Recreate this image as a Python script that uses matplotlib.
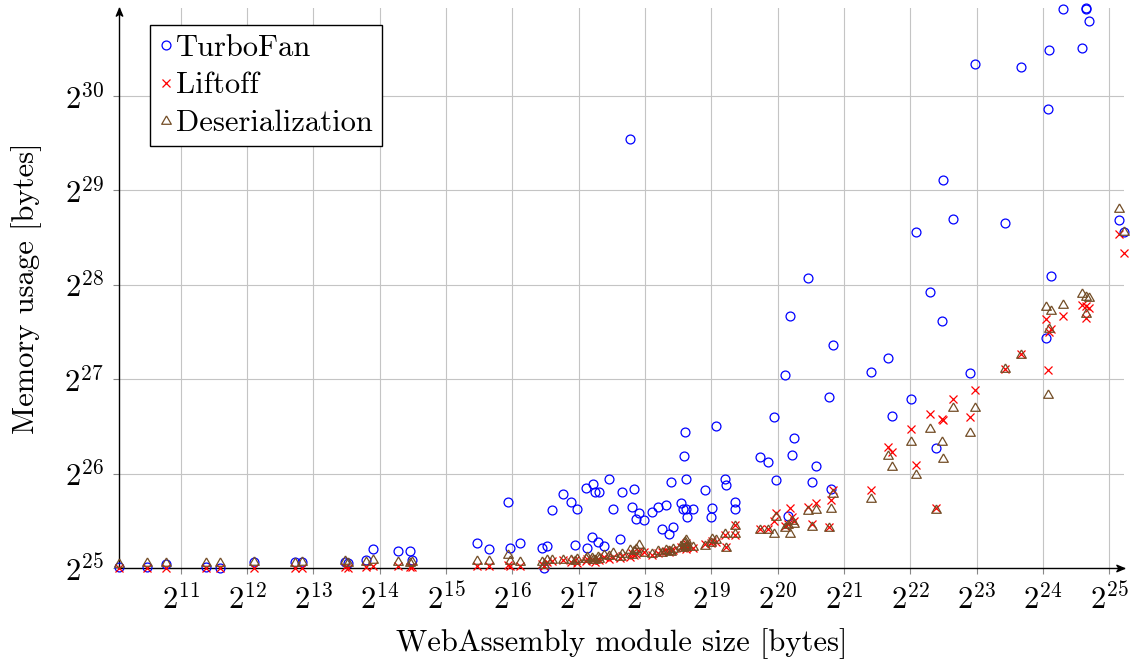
import numpy as np
import matplotlib
matplotlib.use("Agg")
import matplotlib.pyplot as plt
from matplotlib.ticker import FixedLocator, FuncFormatter, NullLocator

plt.rcParams.update({
    "font.family": "serif",
    "font.serif": ["cmr10"],
    "mathtext.fontset": "cm",
    "axes.unicode_minus": False,
    "axes.formatter.use_mathtext": True,
})

# Module size and memory usage, both given as powers of two (bytes = 2 ** value)
size_exp = [
    10.07, 10.49, 10.78, 11.38, 11.60, 12.10, 12.72, 12.83, 13.47, 13.52,
    13.79, 13.90, 14.28, 14.46, 14.48,
    15.46, 15.65, 15.94, 15.96, 16.12, 16.45, 16.47, 16.52, 16.59, 16.77,
    16.89, 16.95, 16.98, 17.11, 17.13, 17.20, 17.21, 17.24, 17.29, 17.31,
    17.38, 17.45, 17.51, 17.62, 17.66, 17.77, 17.81, 17.84, 17.86, 17.91,
    17.98, 18.10, 18.19, 18.26, 18.32, 18.36, 18.39, 18.42, 18.54, 18.57,
    18.58, 18.60, 18.61, 18.62, 18.63, 18.72, 18.91, 19.00, 19.01, 19.07,
    19.21, 19.22, 19.35, 19.36,
    19.73, 19.86, 19.95, 19.97, 20.11, 20.16, 20.18, 20.21, 20.25, 20.45,
    20.51, 20.57, 20.78, 20.80, 20.83, 21.41, 21.66, 21.72, 22.01, 22.08,
    22.30, 22.39, 22.48, 22.49, 22.64, 22.90, 22.98, 23.43, 23.67, 24.05,
    24.08, 24.09, 24.12, 24.30, 24.59, 24.64, 24.65, 24.69, 25.15, 25.22,
]

turbofan_exp = [
    25.01, 25.01, 25.04, 25.01, 25.00, 25.06, 25.06, 25.06, 25.06, 25.05,
    25.09, 25.20, 25.18, 25.18, 25.09,
    25.26, 25.20, 25.70, 25.21, 25.26, 25.21, 25.00, 25.23, 25.61, 25.78,
    25.70, 25.24, 25.62, 25.85, 25.21, 25.33, 25.89, 25.81, 25.28, 25.80,
    25.23, 25.94, 25.62, 25.31, 25.80, 29.54, 25.65, 25.84, 25.52, 25.58,
    25.51, 25.59, 25.65, 25.41, 25.67, 25.36, 25.91, 25.43, 25.69, 25.63,
    26.19, 26.44, 25.94, 25.63, 25.54, 25.63, 25.83, 25.54, 25.64, 26.50,
    25.94, 25.88, 25.70, 25.62,
    26.18, 26.12, 26.60, 25.93, 27.04, 25.55, 27.67, 26.20, 26.38, 28.07,
    25.91, 26.08, 26.81, 25.84, 27.36, 27.08, 27.22, 26.61, 26.79, 28.56,
    27.92, 26.27, 27.62, 29.11, 28.70, 27.07, 30.34, 28.65, 30.31, 27.44,
    29.86, 30.48, 28.09, 30.92, 30.51, 30.93, 30.92, 30.79, 28.69, 28.56,
]

liftoff_exp = [
    25.00, 25.00, 25.00, 25.00, 25.00, 25.00, 25.00, 25.00, 25.01, 25.00,
    25.01, 25.02, 25.02, 25.01, 25.01,
    25.02, 25.02, 25.03, 25.02, 25.02, 25.04, 25.02, 25.06, 25.07, 25.08,
    25.06, 25.08, 25.05, 25.07, 25.10, 25.08, 25.09, 25.06, 25.10, 25.08,
    25.12, 25.10, 25.12, 25.11, 25.13, 25.12, 25.16, 25.14, 25.15, 25.18,
    25.17, 25.14, 25.16, 25.17, 25.18, 25.17, 25.19, 25.19, 25.22, 25.21,
    25.24, 25.23, 25.26, 25.20, 25.22, 25.21, 25.25, 25.27, 25.29, 25.28,
    25.35, 25.22, 25.46, 25.35,
    25.41, 25.41, 25.50, 25.58, 25.45, 25.47, 25.64, 25.54, 25.50, 25.65,
    25.47, 25.69, 25.43, 25.72, 25.83, 25.83, 26.28, 26.23, 26.47, 26.09,
    26.63, 25.64, 26.58, 26.57, 26.79, 26.60, 26.89, 27.11, 27.27, 27.64,
    27.10, 27.50, 27.53, 27.67, 27.79, 27.77, 27.65, 27.75, 28.54, 28.34,
]

deserialization_exp = [
    25.04, 25.05, 25.05, 25.05, 25.05, 25.06, 25.05, 25.06, 25.07, 25.05,
    25.06, 25.08, 25.06, 25.05, 25.06,
    25.07, 25.07, 25.14, 25.07, 25.06, 25.06, 25.03, 25.08, 25.09, 25.08,
    25.09, 25.07, 25.10, 25.10, 25.12, 25.11, 25.08, 25.09, 25.12, 25.10,
    25.14, 25.13, 25.16, 25.12, 25.15, 25.19, 25.14, 25.18, 25.20, 25.24,
    25.16, 25.15, 25.18, 25.16, 25.19, 25.18, 25.17, 25.20, 25.23, 25.21,
    25.26, 25.28, 25.30, 25.22, 25.24, 25.22, 25.23, 25.26, 25.31, 25.30,
    25.36, 25.21, 25.45, 25.36,
    25.40, 25.40, 25.36, 25.54, 25.42, 25.46, 25.36, 25.50, 25.47, 25.60,
    25.43, 25.61, 25.42, 25.63, 25.78, 25.73, 26.19, 26.07, 26.33, 25.99,
    26.47, 25.61, 26.33, 26.15, 26.69, 26.43, 26.69, 27.11, 27.26, 27.76,
    26.83, 27.53, 27.72, 27.79, 27.90, 27.87, 27.69, 27.86, 28.80, 28.56,
]

x_tick_exp = list(range(11, 26))
y_tick_exp = list(range(25, 31))

size = 2.0 ** np.array(size_exp)
series = [
    ("TurboFan", 2.0 ** np.array(turbofan_exp)),
    ("Liftoff", 2.0 ** np.array(liftoff_exp)),
    ("Deserialization", 2.0 ** np.array(deserialization_exp)),
]

# equilateral triangle centred on its circumcentre
tri = [(0.0, 1.0), (-0.866, -0.5), (0.866, -0.5), (0.0, 1.0)]
styles = {
    "TurboFan": dict(marker="o", ms=6.4, mfc="none", mec="#0000ff", mew=0.9),
    "Liftoff": dict(marker="x", ms=5.4, mec="#ff0000", mew=0.9),
    "Deserialization": dict(marker=tri, ms=8.0, mfc="none", mec="#734d26", mew=0.9),
}

fig = plt.figure(figsize=(11.4, 6.68), dpi=100)
ax = fig.add_axes([119 / 1140, 100 / 668, 1005 / 1140, 560 / 668])

for name, mem in series:
    ax.plot(size, mem, linestyle="none", label=name, clip_on=False, zorder=3,
            **styles[name])

ax.set_xscale("log", base=2)
ax.set_yscale("log", base=2)
ax.set_xlim(2.0 ** min(size_exp), 2.0 ** max(size_exp))
ax.set_ylim(2.0 ** 25, 2.0 ** max(turbofan_exp))

pow2 = FuncFormatter(lambda v, _: r"$2^{%d}$" % int(round(np.log2(v))))
ax.xaxis.set_major_locator(FixedLocator([2.0 ** e for e in x_tick_exp]))
ax.yaxis.set_major_locator(FixedLocator([2.0 ** e for e in y_tick_exp]))
ax.xaxis.set_minor_locator(NullLocator())
ax.yaxis.set_minor_locator(NullLocator())
ax.xaxis.set_major_formatter(pow2)
ax.yaxis.set_major_formatter(pow2)
ax.tick_params(axis="both", which="major", direction="out", length=4,
               width=0.8, color="#888888", labelsize=22, pad=7)

ax.grid(True, which="major", color="#c4c4c4", linewidth=0.8)
ax.set_axisbelow(True)

for side in ("top", "right"):
    ax.spines[side].set_visible(False)
for side in ("left", "bottom"):
    ax.spines[side].set_linewidth(1.0)
    ax.spines[side].set_color("black")
    ax.spines[side].set_zorder(2.5)

# arrow heads at the ends of both axis lines
head = [(0, 0), (-1, 0.42), (-0.72, 0), (-1, -0.42), (0, 0)]
head_up = [(-y, x) for x, y in head]
ax.plot(1, 0, marker=head, ms=11, color="black", transform=ax.transAxes,
        clip_on=False, zorder=4)
ax.plot(0, 1, marker=head_up, ms=11, color="black", transform=ax.transAxes,
        clip_on=False, zorder=4)

ax.set_xlabel("WebAssembly module size [bytes]", fontsize=22)
ax.set_ylabel("Memory usage [bytes]", fontsize=22)
ax.xaxis.set_label_coords(0.5, -0.107)
ax.yaxis.set_label_coords(-0.0766, 0.5)

leg = ax.legend(loc="upper left", bbox_to_anchor=(31 / 1005, 1 - 17 / 560),
                borderaxespad=0, fancybox=False, framealpha=1,
                edgecolor="black", fontsize=22, numpoints=1,
                handlelength=0.45, handletextpad=0.1, borderpad=0.3,
                labelspacing=0.34)
leg.get_frame().set_linewidth(1.0)

fig.savefig("out.png", dpi=100)
